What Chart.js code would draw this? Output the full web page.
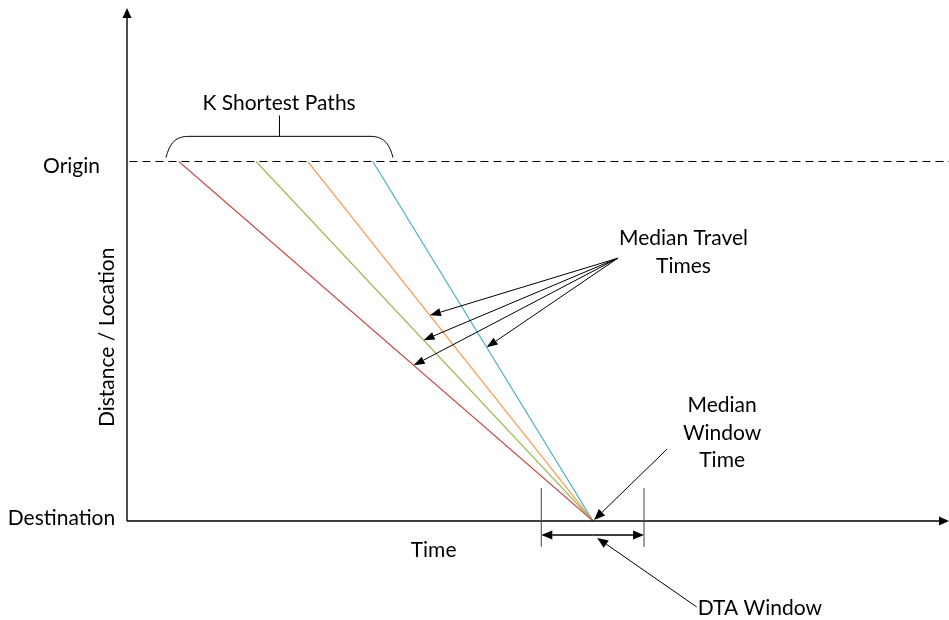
<!DOCTYPE html>
<html>
<head>
<meta charset="utf-8">
<script src="https://cdn.jsdelivr.net/npm/chart.js@4.4.1/dist/chart.umd.min.js"></script>
<style>
  html, body { margin: 0; padding: 0; background: #fff; }
</style>
</head>
<body>
<canvas id="diagram" width="949" height="620"></canvas>
<script>
// k shortest paths: departure time at the origin, all arrive together at the destination
const pathLabels = ['Path 1', 'Path 2', 'Path 3', 'Path 4'];
const departTimes = [6.3, 15.7, 22.0, 29.9];
const arrivalTime = 56.7;
// distance level where each "median travel time" arrow lands on its path
const medianLevels = [0.433, 0.503, 0.572, 0.483];
// distance axis: destination = 0, origin = 1
const yTickValues = [0, 1];
const yTickLabels = ['Destination', 'Origin'];
// DTA window around the median window time
const dtaWindow = [50.4, 62.9];

const pathColors = ['#C0504D', '#9BBB59', '#F79646', '#4BACC6'];
const FONT = '21px Lato, "Open Sans", sans-serif';
const INK = '#000';

// label / callout placement, in data units (time, distance)
const tickLabelPos = [{ x: -7.97, y: -0.011 }, { x: -6.75, y: 0.969 }];
const braceSpan = { from: 4.74, to: 32.36, base: 1.011, top: 1.070, tip: 1.128 };
const medianTravelFrom = { x: 59.7, y: 0.731 };
const medianWindowFrom = { x: 65.7, y: 0.2 };
const dtaFrom = { x: 69.3, y: -0.239 };
const dtaTip = { x: 57.2, y: -0.047 };
const windowBar = { top: 0.092, bottom: -0.072, arrowY: -0.039 };
const texts = [
  { lines: ['K Shortest Paths'], x: 18.5, y: 1.142 },
  { lines: ['Median Travel', 'Times'], x: 67.7, y: 0.767 },
  { lines: ['Median', 'Window', 'Time'], x: 72.4, y: 0.303 },
  { lines: ['DTA Window'], x: 77.0, y: -0.261 },
  { lines: ['Time'], x: 37.3, y: -0.1 }
];

function arrow(ctx, x1, y1, x2, y2, len, wid) {
  const a = Math.atan2(y2 - y1, x2 - x1);
  const bx = x2 - Math.cos(a) * len, by = y2 - Math.sin(a) * len;
  ctx.beginPath();
  ctx.moveTo(x1, y1);
  ctx.lineTo(bx, by);
  ctx.stroke();
  ctx.beginPath();
  ctx.moveTo(x2, y2);
  ctx.lineTo(bx + Math.sin(a) * wid / 2, by - Math.cos(a) * wid / 2);
  ctx.lineTo(bx - Math.sin(a) * wid / 2, by + Math.cos(a) * wid / 2);
  ctx.closePath();
  ctx.fill();
}

const diagramExtras = {
  id: 'diagramExtras',
  afterDatasetsDraw(chart) {
    const { ctx, scales: { x, y } } = chart;
    const px = v => x.getPixelForValue(v);
    const py = v => y.getPixelForValue(v);
    ctx.save();
    ctx.strokeStyle = '#000';
    ctx.fillStyle = '#000';

    // axes with arrow heads
    ctx.lineWidth = 1.4;
    arrow(ctx, px(0), py(0), px(0), py(y.max), 10, 9);
    arrow(ctx, px(0), py(0), px(x.max), py(0), 10, 9);

    // brace over the departures
    ctx.lineWidth = 1;
    const bl = px(braceSpan.from), br = px(braceSpan.to);
    const bb = py(braceSpan.base), bt = py(braceSpan.top);
    const bm = (bl + br) / 2;
    ctx.beginPath();
    ctx.moveTo(bl, bb);
    ctx.bezierCurveTo(bl + 4, bt + 6, bl + 10, bt, bl + 23, bt);
    ctx.lineTo(br - 23, bt);
    ctx.bezierCurveTo(br - 10, bt, br - 4, bt + 6, br, bb);
    ctx.moveTo(bm, bt);
    ctx.lineTo(bm, py(braceSpan.tip));
    ctx.stroke();

    // median travel time arrows, landing on each path line
    ctx.lineWidth = 1;
    medianLevels.forEach((lv, i) => {
      const t = departTimes[i] + (1 - lv) * (arrivalTime - departTimes[i]);
      arrow(ctx, px(medianTravelFrom.x), py(medianTravelFrom.y), px(t), py(lv), 11, 8);
    });

    // median window time arrow
    arrow(ctx, px(medianWindowFrom.x), py(medianWindowFrom.y), px(arrivalTime) + 1, py(0) - 1, 11, 9);

    // DTA window bars and double arrow
    ctx.strokeStyle = '#444';
    ctx.beginPath();
    dtaWindow.forEach(t => {
      ctx.moveTo(px(t), py(windowBar.top));
      ctx.lineTo(px(t), py(windowBar.bottom));
    });
    ctx.stroke();
    ctx.strokeStyle = '#000';
    ctx.lineWidth = 1.4;
    const mid = (px(dtaWindow[0]) + px(dtaWindow[1])) / 2;
    arrow(ctx, mid, py(windowBar.arrowY), px(dtaWindow[0]), py(windowBar.arrowY), 11, 9);
    arrow(ctx, mid, py(windowBar.arrowY), px(dtaWindow[1]), py(windowBar.arrowY), 11, 9);
    ctx.lineWidth = 1;
    arrow(ctx, px(dtaFrom.x), py(dtaFrom.y), px(dtaTip.x), py(dtaTip.y), 11, 9);

    // text
    ctx.font = FONT;
    ctx.fillStyle = INK;
    ctx.textAlign = 'center';
    ctx.textBaseline = 'alphabetic';
    texts.forEach(tx => {
      tx.lines.forEach((ln, k) => ctx.fillText(ln, px(tx.x), py(tx.y) + k * 27.5));
    });
    yTickValues.forEach((v, i) => {
      ctx.fillText(yTickLabels[i], px(tickLabelPos[i].x), py(tickLabelPos[i].y));
    });
    ctx.translate(px(-2.43), py(0.511));
    ctx.rotate(-Math.PI / 2);
    ctx.textBaseline = 'middle';
    ctx.fillText('Distance / Location', 0, 0);
    ctx.restore();
  }
};

const datasets = pathLabels.map((name, i) => ({
  label: name,
  data: [{ x: departTimes[i], y: 1 }, { x: arrivalTime, y: 0 }],
  showLine: true,
  borderColor: pathColors[i],
  borderWidth: 1.2,
  pointRadius: 0,
  fill: false
}));
datasets.push({
  label: 'Origin',
  data: [{ x: 0.3, y: 1 }, { x: 100, y: 1 }],
  showLine: true,
  borderColor: '#000',
  borderWidth: 1,
  borderDash: [8, 5],
  pointRadius: 0
});

new Chart(document.getElementById('diagram'), {
  type: 'scatter',
  data: { datasets },
  options: {
    responsive: false,
    animation: false,
    devicePixelRatio: 1,
    layout: { padding: { left: 127, right: 0, top: 8, bottom: 99 } },
    plugins: { legend: { display: false }, tooltip: { enabled: false } },
    scales: {
      x: { type: 'linear', display: false, min: 0, max: 100 },
      y: { type: 'linear', display: false, min: 0, max: 1.427 }
    }
  },
  plugins: [diagramExtras]
});
</script>
</body>
</html>
